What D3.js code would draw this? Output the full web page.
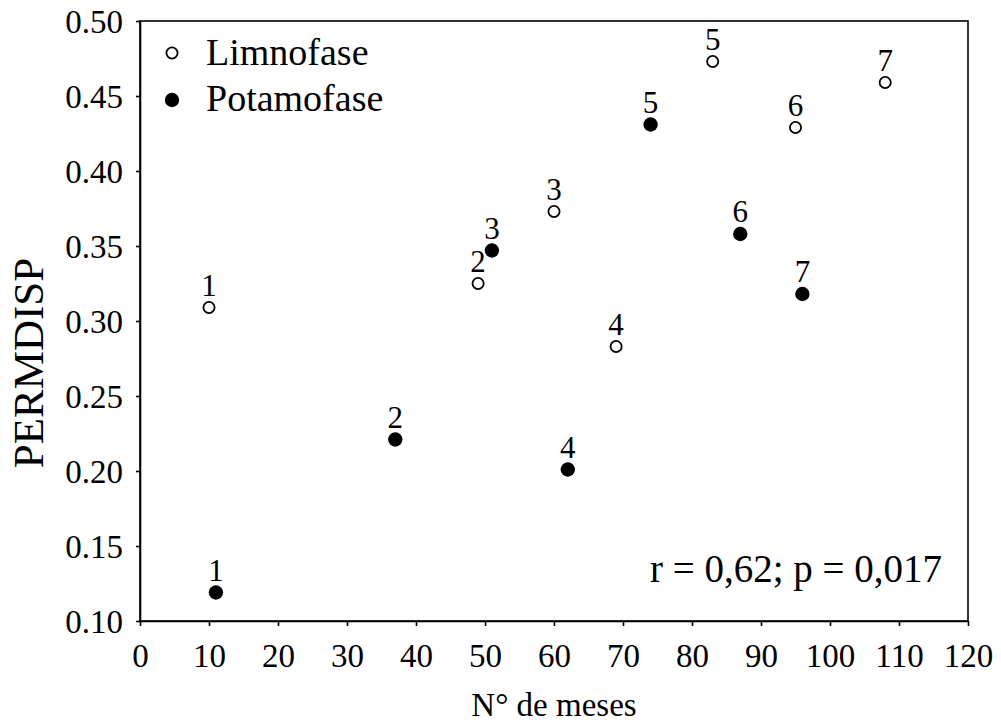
<!DOCTYPE html>
<html>
<head>
<meta charset="utf-8">
<script src="https://cdn.jsdelivr.net/npm/d3@7"></script>
<style>
  html, body { margin: 0; padding: 0; background: #fff; }
  svg { display: block; font-family: "Liberation Serif", "Times New Roman", serif; }
  svg text { font-family: "Liberation Serif", "Times New Roman", serif !important; fill: #000; }
</style>
</head>
<body>
<svg id="chart" width="1001" height="724"></svg>
<script>
// ---- data ----
const pointLabels = ["1", "2", "3", "4", "5", "6", "7"];
const monthsLimnofase = [10, 49, 60, 69, 83, 95, 108];
const permdispLimnofase = [0.309, 0.325, 0.373, 0.283, 0.473, 0.429, 0.459];
const monthsPotamofase = [11, 37, 51, 62, 74, 87, 96];
const permdispPotamofase = [0.119, 0.221, 0.347, 0.201, 0.431, 0.358, 0.318];
const xTicks = [0, 10, 20, 30, 40, 50, 60, 70, 80, 90, 100, 110, 120];
const yTicks = [0.10, 0.15, 0.20, 0.25, 0.30, 0.35, 0.40, 0.45, 0.50];
const seriesNames = ["Limnofase", "Potamofase"];
const statText = "r = 0,62; p = 0,017";

// ---- layout ----
const FONT = '"Liberation Serif", "Times New Roman", serif';
const svg = d3.select("#chart");
const L = 140, R = 968, T = 21, B = 621;
const x = d3.scaleLinear().domain([0, 120]).range([L, R]);
const y = d3.scaleLinear().domain([0.10, 0.50]).range([B, T]);

// frame
svg.append("rect").attr("x", L).attr("y", T).attr("width", R - L).attr("height", B - T)
  .attr("fill", "none").attr("stroke", "#000").attr("stroke-width", 1.6);

// x axis
const gx = svg.append("g").attr("transform", `translate(0,${B})`)
  .call(d3.axisBottom(x).tickValues(xTicks).tickSize(5).tickSizeOuter(0).tickPadding(18).tickFormat(d3.format("d")));
gx.attr("font-family", FONT).attr("font-size", 33);
gx.select(".domain").attr("stroke-width", 1.6);
gx.selectAll(".tick line").attr("stroke-width", 1.6);
gx.selectAll(".tick text").attr("dy", "0.71em");

// y axis
const gy = svg.append("g").attr("transform", `translate(${L},0)`)
  .call(d3.axisLeft(y).tickValues(yTicks).tickSize(4).tickSizeOuter(0).tickPadding(13).tickFormat(d3.format(".2f")));
gy.attr("font-family", FONT).attr("font-size", 33);
gy.select(".domain").attr("stroke-width", 1.6);
gy.selectAll(".tick line").attr("stroke-width", 1.6);
gy.selectAll(".tick text").attr("dy", "0.36em");

// axis titles
svg.append("text").attr("x", (L + R) / 2).attr("y", 716).attr("text-anchor", "middle")
  .attr("font-family", FONT).attr("font-size", 33).text("N° de meses");
svg.append("text").attr("transform", "translate(43,363) rotate(-90)").attr("text-anchor", "middle")
  .attr("font-family", FONT).attr("font-size", 43).text("PERMDISP");

// points
const limno = monthsLimnofase.map((m, i) => ({ m, v: permdispLimnofase[i], lab: pointLabels[i] }));
const pota = monthsPotamofase.map((m, i) => ({ m, v: permdispPotamofase[i], lab: pointLabels[i] }));

svg.append("g").selectAll("circle").data(limno).join("circle")
  .attr("cx", d => x(d.m)).attr("cy", d => y(d.v)).attr("r", 5.6)
  .attr("fill", "#fff").attr("stroke", "#000").attr("stroke-width", 1.8);
svg.append("g").selectAll("circle").data(pota).join("circle")
  .attr("cx", d => x(d.m)).attr("cy", d => y(d.v)).attr("r", 7.2)
  .attr("fill", "#000");

// point labels
svg.append("g").attr("font-family", FONT).attr("font-size", 31)
  .selectAll("text").data(limno.concat(pota)).join("text")
  .attr("x", d => x(d.m)).attr("y", d => y(d.v) - 12).attr("text-anchor", "middle")
  .text(d => d.lab);

// legend
const lg = svg.append("g").attr("font-family", FONT).attr("font-size", 38);
lg.append("circle").attr("cx", 172).attr("cy", 53).attr("r", 5.6)
  .attr("fill", "#fff").attr("stroke", "#000").attr("stroke-width", 1.8);
lg.append("circle").attr("cx", 172).attr("cy", 100).attr("r", 7.2).attr("fill", "#000");
lg.append("text").attr("x", 206).attr("y", 65).text(seriesNames[0]);
lg.append("text").attr("x", 206).attr("y", 111).text(seriesNames[1]);

// statistic
svg.append("text").attr("x", 942).attr("y", 582).attr("text-anchor", "end")
  .attr("font-family", FONT).attr("font-size", 39).text(statText);
</script>
</body>
</html>
